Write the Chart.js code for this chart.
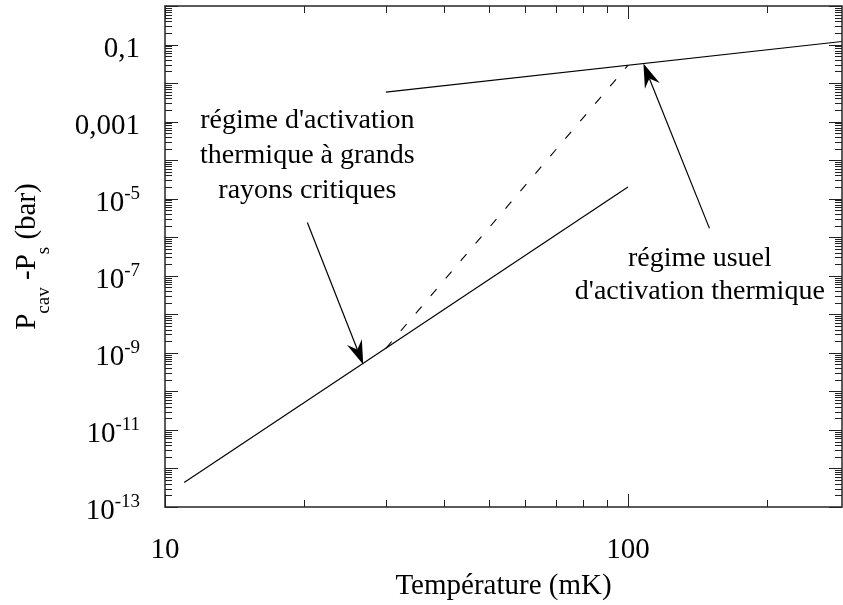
<!DOCTYPE html>
<html>
<head>
<meta charset="utf-8">
<script src="https://cdn.jsdelivr.net/npm/chart.js@4.4.1/dist/chart.umd.min.js"></script>
<style>
  html, body { margin: 0; padding: 0; background: #fff; }
  #wrap { width: 843px; height: 605px; }
</style>
</head>
<body>
<div id="wrap"><canvas id="chart" width="843" height="605"></canvas></div>
<script>
// régime à grands rayons critiques (pente ~ T^8)
const lowT = [11, 100];
const lowP = [4.3e-13, 2.0e-5];
// régime usuel
const highT = [30, 290];
const highP = [5.8e-3, 0.12];
// raccord en pointillés
const dashT = [30, 100];
const dashP = [1.31e-9, 0.0287];

// graduations
const xLabelVals = [10, 100];
const xLabelText = ['10', '100'];
const yLabelVals = [1e-1, 1e-3, 1e-5, 1e-7, 1e-9, 1e-11, 1e-13];
const yLabelBase = ['0,1', '0,001', '10', '10', '10', '10', '10'];
const yLabelSup = ['', '', '-5', '-7', '-9', '-11', '-13'];

// annotations (coordonnées en données)
const noteLeft = ["régime d'activation", 'thermique à grands', 'rayons critiques'];
const noteLeftAt = [20.3, 7.0e-4];
const noteRight = ['régime usuel', "d'activation thermique"];
const noteRightAt = [143, 1.75e-7];
const arrowTails = [[20.3, 2.4e-6], [150, 1.7e-6]];
const arrowTips = [[26.8, 5.0e-10], [108, 0.032]];

const FONT = '"Liberation Serif", "Times New Roman", serif';

function pts(xs, ys) {
  return xs.map((x, i) => ({ x: x, y: ys[i] }));
}

const decorPlugin = {
  id: 'decor',
  afterDraw(chart) {
    const ctx = chart.ctx;
    const xs = chart.scales.x;
    const ys = chart.scales.y;
    const a = chart.chartArea;
    ctx.save();

    // cadre
    ctx.strokeStyle = '#333';
    ctx.lineWidth = 1.6;
    ctx.strokeRect(a.left, a.top, a.right - a.left, a.bottom - a.top);

    // graduations vers l'intérieur, sur les quatre côtés
    ctx.lineWidth = 1;
    ctx.strokeStyle = '#222';
    ctx.beginPath();
    for (let e = 1; e <= 2; e++) {
      for (let m = 1; m <= 9; m++) {
        const v = m * Math.pow(10, e);
        if (v < xs.min || v > xs.max) continue;
        const px = Math.round(xs.getPixelForValue(v)) + 0.5;
        const len = m === 1 ? 13 : 7;
        ctx.moveTo(px, a.bottom); ctx.lineTo(px, a.bottom - len);
        ctx.moveTo(px, a.top); ctx.lineTo(px, a.top + len);
      }
    }
    for (let e = -13; e <= 0; e++) {
      for (let m = 1; m <= 9; m++) {
        const v = m * Math.pow(10, e);
        if (v < ys.min || v > ys.max * 1.0001) continue;
        const py = Math.round(ys.getPixelForValue(v)) + 0.5;
        const len = m === 1 ? 13 : 7;
        ctx.moveTo(a.left, py); ctx.lineTo(a.left + len, py);
        ctx.moveTo(a.right, py); ctx.lineTo(a.right - len, py);
      }
    }
    ctx.stroke();

    ctx.fillStyle = '#000';

    // étiquettes de l'axe y
    ctx.textBaseline = 'alphabetic';
    yLabelVals.forEach((v, i) => {
      const py = ys.getPixelForValue(v);
      const base = yLabelBase[i];
      const sup = yLabelSup[i];
      const right = a.left - 25;
      ctx.font = '19px ' + FONT;
      const sw = sup ? ctx.measureText(sup).width : 0;
      ctx.font = '29px ' + FONT;
      ctx.textAlign = 'right';
      ctx.fillText(base, right - sw, py + 12);
      if (sup) {
        ctx.font = '19px ' + FONT;
        ctx.textAlign = 'left';
        ctx.fillText(sup, right - sw, py);
      }
    });

    // étiquettes de l'axe x
    ctx.font = '29px ' + FONT;
    ctx.textAlign = 'center';
    xLabelVals.forEach((v, i) => {
      ctx.fillText(xLabelText[i], xs.getPixelForValue(v), 558);
    });

    // titre x
    ctx.fillText('Température (mK)', (a.left + a.right) / 2, 594);

    // titre y avec indices
    const parts = [
      { t: 'P', sub: false },
      { t: 'cav', sub: true },
      { t: ' -P', sub: false },
      { t: 's', sub: true },
      { t: ' (bar)', sub: false }
    ];
    let total = 0;
    parts.forEach(p => {
      ctx.font = (p.sub ? '19px ' : '29px ') + FONT;
      p.w = ctx.measureText(p.t).width;
      total += p.w;
    });
    ctx.save();
    ctx.translate(35, (a.top + a.bottom) / 2);
    ctx.rotate(-Math.PI / 2);
    ctx.textAlign = 'left';
    let cx = -total / 2;
    parts.forEach(p => {
      ctx.font = (p.sub ? '19px ' : '29px ') + FONT;
      ctx.fillText(p.t, cx, p.sub ? 14 : 0);
      cx += p.w;
    });
    ctx.restore();

    // annotations
    ctx.font = '28px ' + FONT;
    ctx.textAlign = 'center';
    let lx = xs.getPixelForValue(noteLeftAt[0]);
    let ly = ys.getPixelForValue(noteLeftAt[1]);
    noteLeft.forEach((t, i) => ctx.fillText(t, lx, ly + i * 35));
    lx = xs.getPixelForValue(noteRightAt[0]);
    ly = ys.getPixelForValue(noteRightAt[1]);
    noteRight.forEach((t, i) => ctx.fillText(t, lx, ly + i * 33));

    // flèches
    ctx.strokeStyle = '#000';
    ctx.lineWidth = 1.2;
    arrowTails.forEach((tail, i) => {
      const x0 = xs.getPixelForValue(tail[0]);
      const y0 = ys.getPixelForValue(tail[1]);
      const x1 = xs.getPixelForValue(arrowTips[i][0]);
      const y1 = ys.getPixelForValue(arrowTips[i][1]);
      const d = Math.hypot(x1 - x0, y1 - y0);
      const ux = (x1 - x0) / d, uy = (y1 - y0) / d;
      const nx = -uy, ny = ux;
      const L = 24, W = 8, N = 16;
      ctx.beginPath();
      ctx.moveTo(x0, y0);
      ctx.lineTo(x1 - ux * N, y1 - uy * N);
      ctx.stroke();
      ctx.beginPath();
      ctx.moveTo(x1, y1);
      ctx.lineTo(x1 - ux * L + nx * W, y1 - uy * L + ny * W);
      ctx.lineTo(x1 - ux * N, y1 - uy * N);
      ctx.lineTo(x1 - ux * L - nx * W, y1 - uy * L - ny * W);
      ctx.closePath();
      ctx.fill();
    });

    ctx.restore();
  }
};

new Chart(document.getElementById('chart'), {
  type: 'line',
  data: {
    datasets: [
      { data: pts(lowT, lowP), borderColor: '#000', borderWidth: 1.2, pointRadius: 0 },
      { data: pts(highT, highP), borderColor: '#000', borderWidth: 1.2, pointRadius: 0 },
      { data: pts(dashT, dashP), borderColor: '#000', borderWidth: 1.1, pointRadius: 0, borderDash: [9, 14] }
    ]
  },
  options: {
    responsive: false,
    animation: false,
    devicePixelRatio: 1,
    layout: { padding: { top: 6, right: 1, left: 0, bottom: 0 } },
    plugins: { legend: { display: false }, tooltip: { enabled: false } },
    scales: {
      x: {
        type: 'logarithmic',
        min: 10,
        max: 290,
        grid: { display: false },
        border: { display: false },
        ticks: { display: false },
        afterFit: s => { s.height = 98; }
      },
      y: {
        type: 'logarithmic',
        min: 1e-13,
        max: 1,
        grid: { display: false },
        border: { display: false },
        ticks: { display: false },
        afterFit: s => { s.width = 165; }
      }
    }
  },
  plugins: [decorPlugin]
});
</script>
</body>
</html>
